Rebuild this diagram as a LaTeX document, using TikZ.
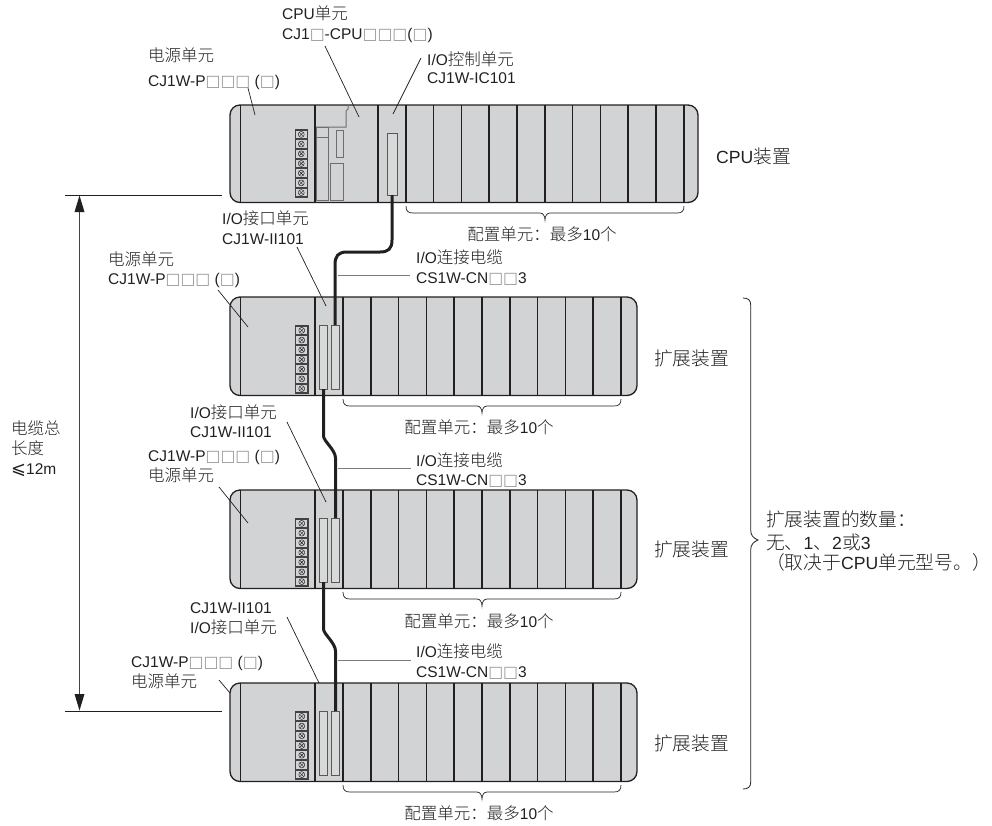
\documentclass[tikz,border=0pt]{standalone}
\usepackage{fontspec}
\setmainfont{Liberation Sans}
\newfontfamily\cjk[Scale=1.065]{Noto Sans CJK SC Light}
\newfontfamily\djv[Scale=1.15]{DejaVu Sans}
\newfontfamily\djvsq[Scale=1.02]{DejaVu Sans}
\newcommand{\zh}[1]{{\cjk #1}}
\definecolor{sqgray}{gray}{0.6}
\newcommand{\sq}{\textcolor{sqgray}{\djvsq □}}
\definecolor{rackfill}{RGB}{209,211,212}
\definecolor{ink}{RGB}{35,31,32}
\tikzset{
 lab/.style={anchor=base west,inner sep=0,font=\fontsize{15.5}{18}\selectfont,text=ink},
 labc/.style={anchor=base,inner sep=0,font=\fontsize{15.5}{18}\selectfont,text=ink},
 biglab/.style={anchor=base west,inner sep=0,font=\fontsize{17.6}{20}\selectfont,text=ink},
 lead/.style={draw=ink,line width=0.7pt},
 cablelead/.style={draw=ink!60,line width=1pt},
 rackline/.style={draw=ink,line width=1.3pt},
 divline/.style={draw=ink,line width=1.5pt},
 conn/.style={draw=ink!75,fill=rackfill!85!white,line width=1pt},
 inner/.style={draw=ink!65,line width=1pt},
 cable/.style={draw=ink,line width=3pt,line cap=butt},
}
% terminal block at top-left x,y (14 x 68)
\newcommand{\terminal}[2]{%
 \begin{scope}[shift={(#1,#2)}]
  \fill[ink!85] (0,0) rectangle (13.5,68.7);
  \foreach \i in {0,...,6}{
    \fill[rackfill] (1.2,{\i*9.7+1.5}) rectangle (12.3,{\i*9.7+9.2});
    \draw[ink,line width=0.45pt] (6.75,{\i*9.7+5.4}) circle (3);
    \draw[ink,line width=0.45pt] (4.75,{\i*9.7+3.4}) -- (8.75,{\i*9.7+7.4}) (8.75,{\i*9.7+3.4}) -- (4.75,{\i*9.7+7.4});
  }
 \end{scope}}
% bottom bracket
\newcommand{\unitbrace}[3]{% x1 x2 ytop
 \draw[draw=ink,line width=0.7pt] (#1,#3) .. controls (#1,{#3+5}) and ({#1+2},{#3+7}) .. ({#1+7},{#3+7})
   -- ({(#1+#2)/2-5},{#3+7}) .. controls ({(#1+#2)/2-2},{#3+7}) and ({(#1+#2)/2},{#3+10}) .. ({(#1+#2)/2},{#3+14})
   .. controls ({(#1+#2)/2},{#3+10}) and ({(#1+#2)/2+2},{#3+7}) .. ({(#1+#2)/2+5},{#3+7})
   -- ({#2-7},{#3+7}) .. controls ({#2-2},{#3+7}) and (#2,{#3+5}) .. (#2,#3);}
% expansion rack at y-top
\newcommand{\exprack}[1]{%
 \begin{scope}[yshift={-(#1)*1pt}]
  \draw[rackline,fill=rackfill,rounded corners=10pt] (230,0) rectangle (637,98.5);
  \foreach \x in {240.5,315,343,370.8,398.6,426.4,454.2,482,509.8,537.6,565.4,593.2,621}
    \draw[divline] (\x,0) -- (\x,98.5);
  \terminal{295}{28}
  \draw[conn] (319.5,28) rectangle (327.5,92);
  \draw[conn] (331.5,28) rectangle (339.5,92);
 \end{scope}}
\begin{document}
\begin{tikzpicture}[x=1pt,y=-1pt]
\useasboundingbox (0,0) rectangle (992,825);
% CPU rack
\draw[rackline,fill=rackfill,rounded corners=10pt] (230,105) rectangle (698,202.5);
\foreach \x in {240.5,315,378,405.8,433.6,461.4,489.2,517,544.8,572.6,600.4,628.2,656,683.8}
  \draw[divline] (\x,105) -- (\x,202.5);
\terminal{294.5}{129}
\draw[inner] (348,105) -- (348,109) -- (346,111) -- (346,127) -- (316,127);
\draw[inner] (316,127) rectangle (328.5,137);
\draw[inner] (316,137) rectangle (328.5,200);
\draw[inner] (336.5,130) rectangle (343.7,157);
\draw[inner] (330.5,163) rectangle (343.7,200);
\draw[conn] (387.5,133.5) rectangle (397,195);
% expansion racks
\exprack{297}
\exprack{490}
\exprack{683}
% cables
\draw[cable] (392,195) -- (392,240) .. controls (392,249) and (388,252) .. (380,252) -- (347,252) .. controls (338,252) and (335,256) .. (335,265) -- (335,325);
\draw[cable] (323.5,389) -- (323.5,436) .. controls (323.5,441) and (335.5,450) .. (335.5,458) -- (335.5,518);
\draw[cable] (323.5,582) -- (323.5,629) .. controls (323.5,634) and (335.5,643) .. (335.5,651) -- (335.5,711);
% brackets
\unitbrace{406}{684}{206}
\unitbrace{343}{621}{399}
\unitbrace{343}{621}{592}
\unitbrace{343}{621}{785}
% big brace
\draw[draw=ink,line width=0.8pt] (743,298) .. controls (748,298) and (750.7,300) .. (750.7,305) -- (750.7,530)
  .. controls (750.7,535) and (753,538) .. (758,540) .. controls (753,542) and (750.7,545) .. (750.7,550)
  -- (750.7,782) .. controls (750.7,787) and (748,789) .. (743,789);
% dimension
\draw[lead] (65,195) -- (222,195);
\draw[lead] (65,711) -- (222,711);
\draw[draw=ink!85,line width=1.4pt] (79.5,205) -- (79.5,702);
\fill[ink] (79.5,195.5) -- (74.5,212) -- (84.5,212) -- cycle;
\fill[ink] (79.5,710.5) -- (74.5,694) -- (84.5,694) -- cycle;
% texts
\node[lab] at (148,61) {\zh{电源单元}};
\node[lab] at (148,86) {CJ1W-P\sq\sq\sq{} (\sq)};
\node[lab] at (282,19) {CPU\zh{单元}};
\node[lab] at (282,39) {CJ1\sq-CPU\sq\sq\sq(\sq)};
\node[lab] at (427,65) {I/O\zh{控制单元}};
\node[lab] at (427,83) {CJ1W-IC101};
\node[biglab] at (716,163.5) {CPU\zh{装置}};
\node[labc] at (542,240) {\zh{配置单元：最多}10\zh{个}};
\node[lab] at (222,224) {I/O\zh{接口单元}};
\node[lab] at (222,244) {CJ1W-II101};
\node[lab] at (108,265) {\zh{电源单元}};
\node[lab] at (108,284) {CJ1W-P\sq\sq\sq{} (\sq)};
\node[lab] at (416,263) {I/O\zh{连接电缆}};
\node[lab] at (416,283) {CS1W-CN\sq\sq3};
\node[biglab] at (654,365) {\zh{扩展装置}};
\node[labc] at (479,433) {\zh{配置单元：最多}10\zh{个}};
\node[lab] at (190,418) {I/O\zh{接口单元}};
\node[lab] at (190,437.5) {CJ1W-II101};
\node[lab] at (148,461.5) {CJ1W-P\sq\sq\sq{} (\sq)};
\node[lab] at (148,481.5) {\zh{电源单元}};
\node[lab] at (416,466) {I/O\zh{连接电缆}};
\node[lab] at (416,485) {CS1W-CN\sq\sq3};
\node[biglab] at (654,556.5) {\zh{扩展装置}};
\node[labc] at (479,627) {\zh{配置单元：最多}10\zh{个}};
\node[lab] at (190,613) {CJ1W-II101};
\node[lab] at (190,633.5) {I/O\zh{接口单元}};
\node[lab] at (131,667) {CJ1W-P\sq\sq\sq{} (\sq)};
\node[lab] at (131,687) {\zh{电源单元}};
\node[lab] at (416,657) {I/O\zh{连接电缆}};
\node[lab] at (416,677) {CS1W-CN\sq\sq3};
\node[biglab] at (654,750.5) {\zh{扩展装置}};
\node[labc] at (479,819) {\zh{配置单元：最多}10\zh{个}};
\node[lab] at (11,434) {\zh{电缆总}};
\node[lab] at (11,454) {\zh{长度}};
\node[lab] at (11,474) {{\djv ⩽}12m};
\node[biglab] at (766,526) {\zh{扩展装置的数量：}};
\node[biglab] at (766,549) {\zh{无、}1\zh{、}2\zh{或}3};
\node[biglab] at (766,569) {\zh{（取决于}CPU\zh{单元型号。）}};
% leader lines
\draw[lead] (248,88) -- (255,115);
\draw[lead] (325,46) -- (359,117);
\draw[lead] (421,58) -- (393,114);
\draw[lead] (297,247) -- (326,306);
\draw[lead] (218,290) -- (248,327);
\draw[lead] (287,422) -- (326,502);
\draw[lead] (219,487) -- (248,523);
\draw[lead] (287,617) -- (319,683);
\draw[lead] (219,680) -- (230,693);
\draw[cablelead] (338,275) -- (410,275);
\draw[cablelead] (338,468) -- (411,468);
\draw[cablelead] (338,660) -- (411,660);
\end{tikzpicture}
\end{document}
